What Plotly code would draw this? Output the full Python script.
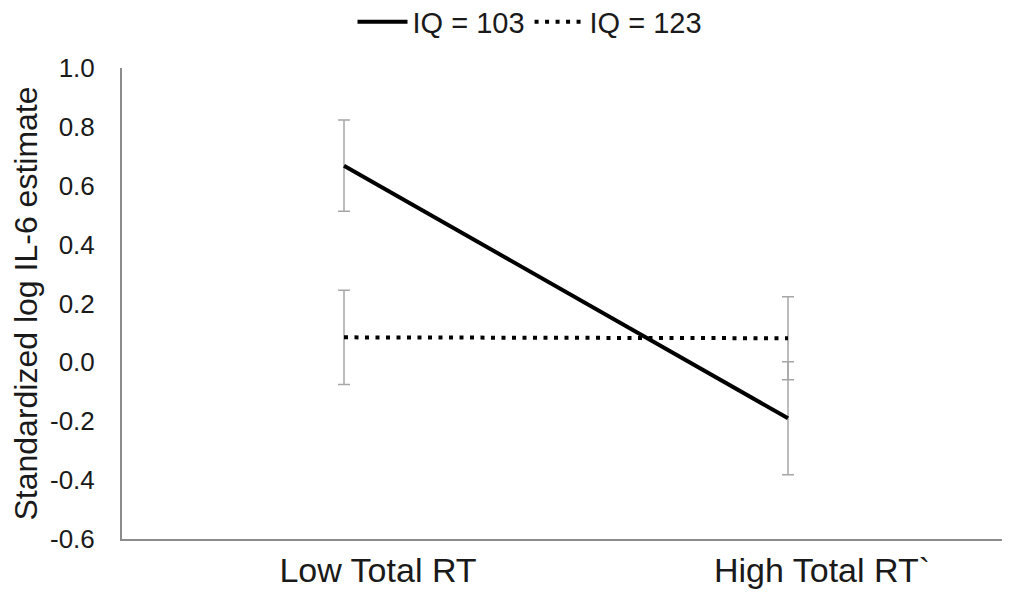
import plotly.graph_objects as go

categories = ["Low Total RT", "High Total RT`"]
iq103 = [0.668, -0.19]
iq103_err = [0.155, 0.192]
iq123 = [0.085, 0.082]
iq123_err = [0.160, 0.141]
y_ticks = [1.0, 0.8, 0.6, 0.4, 0.2, 0.0, -0.2, -0.4, -0.6]
y_tick_text = ["1.0", "0.8", "0.6", "0.4", "0.2", "0.0", "-0.2", "-0.4", "-0.6"]

FONT = "Liberation Sans, Arial, Helvetica, sans-serif"
err_style = dict(type="data", visible=True, color="#a6a6a6", thickness=1.5, width=6)

fig = go.Figure()
fig.add_trace(go.Scatter(
    x=categories, y=iq103, mode="lines", name="IQ = 103",
    line=dict(color="black", width=4),
    error_y=dict(array=iq103_err, **err_style),
))
fig.add_trace(go.Scatter(
    x=categories, y=iq123, mode="lines", name="IQ = 123",
    line=dict(color="black", width=4, dash="4px,6.5px"),
    error_y=dict(array=iq123_err, **err_style),
))

W, H = 1002, 587
fig.update_layout(
    width=W, height=H,
    margin=dict(l=114, r=0, t=60, b=56, autoexpand=False),
    paper_bgcolor="white", plot_bgcolor="white",
    font=dict(family=FONT, color="#1a1a1a"),
    showlegend=True,
    legend=dict(orientation="h", xref="container", yref="container",
                x=522 / W, xanchor="center", y=1 - 14 / H, yanchor="middle",
                itemwidth=50,
                font=dict(size=29, color="#1a1a1a"), bgcolor="rgba(0,0,0,0)"),
    xaxis=dict(range=[-0.5, 1.5], showline=True, linecolor="#8c8c8c", linewidth=2,
               showgrid=False, zeroline=False, ticks="",
               ticklabelshift=34,
               tickfont=dict(size=34, color="#1a1a1a")),
    yaxis=dict(range=[-0.6, 1.0], showline=True, linecolor="#8c8c8c", linewidth=2,
               showgrid=False, zeroline=False, ticks="",
               tickvals=y_ticks, ticktext=y_tick_text,
               tickfont=dict(size=26, color="#1a1a1a"), ticklabelstandoff=20,
               title=dict(text="Standardized log IL-6 estimate",
                          font=dict(size=32, color="#1a1a1a"), standoff=8)),
)

fig.write_html("out.html")
